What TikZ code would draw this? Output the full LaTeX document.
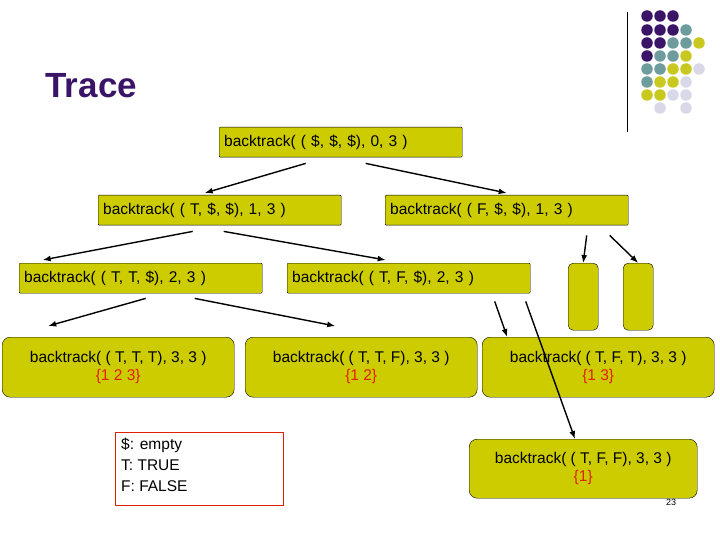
\documentclass[tikz,border=0pt]{standalone}
\usepackage{fontspec}
\setmainfont{Liberation Sans}
\usetikzlibrary{calc,arrows.meta}
\definecolor{olive}{HTML}{CCCC00}
\definecolor{dpur}{HTML}{3A1466}
\definecolor{dteal}{HTML}{6E9C9C}
\definecolor{dyel}{HTML}{C9C81E}
\definecolor{dlil}{HTML}{D8D8E8}
\definecolor{setred}{HTML}{E02000}
\tikzset{
 bt/.style={draw=black,fill=olive,anchor=north west,inner sep=0pt,font=\fontsize{15.5}{18}\selectfont,align=center},
 sq/.style={bt,rounded corners=1pt,align=left,text width=233pt,inner xsep=5pt},
 rd/.style={bt,rounded corners=8pt},
 arr/.style={-{Latex[length=8pt,width=6pt]},line width=1.4pt},
 dot/.style={circle,inner sep=0pt,minimum size=11.5pt},
}
\newcommand{\setx}[1]{\\\textcolor{setred}{#1}}
\begin{document}
\begin{tikzpicture}[x=1pt,y=-1pt]
\useasboundingbox (0,0) rectangle (720,540);
\draw[line width=1pt] (627,12) -- (627,132);
\foreach \r/\cols in {16/{dpur,dpur,dpur},30/{dpur,dpur,dpur,dteal},43/{dpur,dpur,dteal,dteal,dyel},56/{dpur,dteal,dteal,dyel},69/{dteal,dteal,dyel,dyel,dlil},82/{dteal,dyel,dyel,dlil},95/{dyel,dyel,dlil,dlil}}{
  \foreach \c [count=\i from 0] in \cols { \node[dot,fill=\c] at (647+13*\i,\r) {}; }
}
\node[dot,fill=dlil] at (660,108) {};
\node[dot,fill=dlil] at (686,108) {};
\node[anchor=west,text=dpur,font=\fontsize{35}{40}\selectfont\bfseries] (title) at (42,86) {Trace};

\node[sq,minimum height=30] (r) at (219,127) {backtrack( ( \$, \$, \$), 0, 3 )};
\node[sq,minimum height=30] (a) at (98,195) {backtrack( ( T, \$, \$), 1, 3 )};
\node[sq,minimum height=30] (b) at (385,195) {backtrack( ( F, \$, \$), 1, 3 )};
\node[sq,minimum height=30] (aa) at (19,263) {backtrack( ( T, T, \$), 2, 3 )};
\node[sq,minimum height=30] (ab) at (287,263) {backtrack( ( T, F, \$), 2, 3 )};
\node[rd,rounded corners=5pt,minimum width=30,minimum height=67] (ba) at (568,263) {};
\node[rd,rounded corners=5pt,minimum width=30,minimum height=67] (bb) at (623,263) {};
\node[rd,minimum width=232,minimum height=60] (aaa) at (2,337) {backtrack( ( T, T, T), 3, 3 )\setx{\{1 2 3\}}};
\node[rd,minimum width=232,minimum height=60] (aab) at (245,337) {backtrack( ( T, T, F), 3, 3 )\setx{\{1 2\}}};
\node[rd,minimum width=232,minimum height=60] (aba) at (482,337) {backtrack( ( T, F, T), 3, 3 )\setx{\{1 3\}}};
\node[rd,minimum width=228,minimum height=59] (abb) at (469,439) {backtrack( ( T, F, F), 3, 3 )\setx{\{1\}}};
\node[draw=setred,fill=white,anchor=north west,minimum width=168,minimum height=73,inner sep=0pt] (leg) at (115,432) {};
\node[anchor=north west,align=left,inner sep=0pt,font=\fontsize{15.5}{21}\selectfont] (legt) at (121,438) {\$: empty\\T: TRUE\\F: FALSE};
\node[font=\fontsize{9}{10}\selectfont] (pg) at (671,502) {23};

\draw[arr] ($(r.south)+(-35,6)$) -- ($(a.north)+(-15,-2)$);
\draw[arr] ($(r.south)+(25,6)$) -- ($(b.north)+(0,-2)$);
\draw[arr] ($(a.south)+(-27,6)$) -- ($(aa.north)+(-98,-3)$);
\draw[arr] ($(a.south)+(4,6)$) -- ($(ab.north)+(-23,-3)$);
\draw[arr] ($(b.south)+(80,10)$) -- (ba.north);
\draw[arr] ($(b.south)+(103,10)$) -- (bb.north);
\draw[arr] ($(aa.south)+(5,5)$) -- ($(aaa.north)+(-70,-11)$);
\draw[arr] ($(aa.south)+(54,5)$) -- ($(aab.north)+(-26,-11)$);
\draw[arr] ($(ab.south)+(86,8)$) -- ($(aba.north)+(-91,0)$);
\draw[arr] ($(ab.south)+(117,8)$) -- (abb.north -| 575,0);
\end{tikzpicture}
\end{document}
